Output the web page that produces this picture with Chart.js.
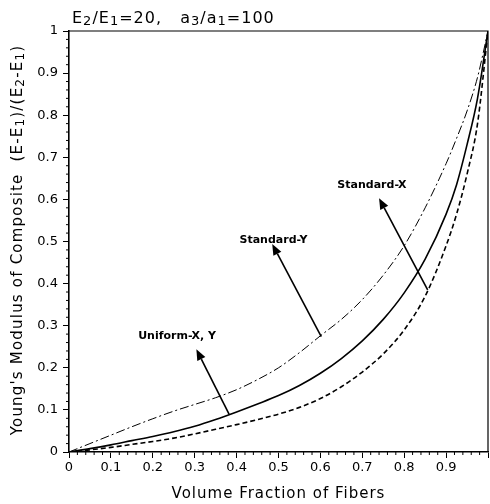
<!DOCTYPE html>
<html>
<head>
<meta charset="utf-8">
<script src="https://cdn.jsdelivr.net/npm/chart.js@4/dist/chart.umd.min.js"></script>
<style>
  html, body { margin: 0; padding: 0; background: #fff; }
</style>
</head>
<body>
<canvas id="chart" width="490" height="504"></canvas>
<script>
// Volume fraction of fibers (x) and normalised Young's modulus (E-E1)/(E2-E1)
const volumeFraction = [0, 0.05, 0.1, 0.15, 0.2, 0.25, 0.3, 0.35, 0.4, 0.45, 0.5, 0.55,
                        0.6, 0.65, 0.7, 0.75, 0.8, 0.85, 0.9, 0.925, 0.95, 0.975, 1];
const uniformXY  = [0, 0.008, 0.017, 0.027, 0.037, 0.048, 0.061, 0.077, 0.095, 0.114, 0.134, 0.158,
                    0.187, 0.222, 0.264, 0.315, 0.378, 0.458, 0.565, 0.635, 0.73, 0.84, 1];
const standardX  = [0, 0.005, 0.011, 0.018, 0.025, 0.033, 0.043, 0.054, 0.065, 0.077, 0.09, 0.106,
                    0.127, 0.155, 0.19, 0.233, 0.29, 0.37, 0.49, 0.565, 0.66, 0.78, 1];
const standardY  = [0, 0.02, 0.04, 0.06, 0.079, 0.097, 0.113, 0.129, 0.148, 0.172, 0.2, 0.236,
                    0.276, 0.315, 0.362, 0.42, 0.49, 0.58, 0.685, 0.745, 0.81, 0.89, 1];

const tickValues = [0, 0.1, 0.2, 0.3, 0.4, 0.5, 0.6, 0.7, 0.8, 0.9, 1];

// Callout labels with arrows
const calloutText  = ['Uniform-X, Y', 'Standard-Y', 'Standard-X'];
const calloutLabel = [[0.258, 0.276], [0.488, 0.504], [0.723, 0.634]];
const calloutTail  = [[0.382, 0.090], [0.602, 0.274], [0.856, 0.385]];
const calloutHead  = [[0.304, 0.244], [0.485, 0.494], [0.740, 0.603]];

const FONT = '"DejaVu Sans", sans-serif';

const toPoints = ys => volumeFraction.map((x, i) => ({ x, y: ys[i] }));
const fmt = v => (Math.abs(v) < 1e-9 ? '0' : String(Number(v.toFixed(1))));

// Draws a run of text pieces; pieces flagged as subscripts are smaller and lowered
function drawRich(ctx, parts, x, y, size) {
  let cx = x;
  for (const [txt, sub] of parts) {
    ctx.font = (sub ? Math.round(size * 0.8) : size) + 'px ' + FONT;
    ctx.fillText(txt, cx, sub ? y + size * 0.1 : y);
    cx += ctx.measureText(txt).width;
  }
  return cx - x;
}
function richWidth(ctx, parts, size) {
  let w = 0;
  for (const [txt, sub] of parts) {
    ctx.font = (sub ? Math.round(size * 0.8) : size) + 'px ' + FONT;
    w += ctx.measureText(txt).width;
  }
  return w;
}

function drawArrow(ctx, x0, y0, x1, y1) {
  const ang = Math.atan2(y1 - y0, x1 - x0);
  const len = 11, half = 4.5;
  const bx = x1 - len * Math.cos(ang), by = y1 - len * Math.sin(ang);
  ctx.beginPath();
  ctx.moveTo(x0, y0);
  ctx.lineTo(bx, by);
  ctx.stroke();
  ctx.beginPath();
  ctx.moveTo(x1, y1);
  ctx.lineTo(bx + half * Math.sin(ang), by - half * Math.cos(ang));
  ctx.lineTo(bx - half * Math.sin(ang), by + half * Math.cos(ang));
  ctx.closePath();
  ctx.fill();
}

const decorations = {
  id: 'decorations',
  afterDraw(chart) {
    const { ctx, chartArea: a, scales: { x, y } } = chart;
    ctx.save();
    ctx.strokeStyle = '#000';
    ctx.fillStyle = '#000';

    // top and right frame
    ctx.lineWidth = 1.2;
    ctx.beginPath();
    ctx.moveTo(a.left, a.top);
    ctx.lineTo(a.right, a.top);
    ctx.lineTo(a.right, a.bottom);
    ctx.stroke();

    // minor ticks every 0.02
    ctx.lineWidth = 1;
    ctx.beginPath();
    for (let i = 1; i < 50; i++) {
      if (i % 5 === 0) continue;
      const px = x.getPixelForValue(i / 50);
      ctx.moveTo(px, a.bottom);
      ctx.lineTo(px, a.bottom + 3);
      const py = y.getPixelForValue(i / 50);
      ctx.moveTo(a.left, py);
      ctx.lineTo(a.left - 3, py);
    }
    ctx.stroke();

    // callouts
    ctx.lineWidth = 1.6;
    calloutText.forEach((t, i) => {
      drawArrow(ctx,
        x.getPixelForValue(calloutTail[i][0]), y.getPixelForValue(calloutTail[i][1]),
        x.getPixelForValue(calloutHead[i][0]), y.getPixelForValue(calloutHead[i][1]));
      ctx.font = 'bold 11px ' + FONT;
      ctx.textAlign = 'center';
      ctx.textBaseline = 'middle';
      ctx.fillText(t, x.getPixelForValue(calloutLabel[i][0]), y.getPixelForValue(calloutLabel[i][1]));
    });

    // heading
    ctx.textAlign = 'left';
    ctx.textBaseline = 'alphabetic';
    ctx.letterSpacing = '1px';
    drawRich(ctx, [['E', 0], ['2', 1], ['/E', 0], ['1', 1], ['=20,   a', 0], ['3', 1], ['/a', 0], ['1', 1], ['=100', 0]],
             a.left + 3, 23, 16);

    // x axis title
    ctx.font = '15px ' + FONT;
    ctx.textAlign = 'center';
    ctx.fillText('Volume Fraction of Fibers', (a.left + a.right) / 2, 498);

    // y axis title
    ctx.letterSpacing = '1.2px';
    const yParts = [["Young's Modulus of Composite  (E-E", 0], ['1', 1], [')/(E', 0], ['2', 1], ['-E', 0], ['1', 1], [')', 0]];
    ctx.translate(22, 240);
    ctx.rotate(-Math.PI / 2);
    ctx.textAlign = 'left';
    const w = richWidth(ctx, yParts, 15);
    drawRich(ctx, yParts, -w / 2, 0, 15);
    ctx.restore();
  }
};

const axisCommon = {
  type: 'linear',
  min: 0,
  max: 1,
  afterBuildTicks: s => { s.ticks = tickValues.map(v => ({ value: v })); },
  grid: { display: true, drawOnChartArea: false, tickLength: 6, color: '#000', lineWidth: 1 },
  border: { display: true, color: '#000', width: 1.6 },
};

new Chart(document.getElementById('chart'), {
  type: 'scatter',
  data: {
    datasets: [
      { label: 'Uniform-X, Y', data: toPoints(uniformXY), showLine: true, borderColor: '#000',
        borderWidth: 1.6, pointRadius: 0, cubicInterpolationMode: 'monotone' },
      { label: 'Standard-X', data: toPoints(standardX), showLine: true, borderColor: '#000',
        borderWidth: 1.6, borderDash: [5, 3], pointRadius: 0, cubicInterpolationMode: 'monotone' },
      { label: 'Standard-Y', data: toPoints(standardY), showLine: true, borderColor: '#000',
        borderWidth: 1, borderDash: [9, 3, 2, 3], pointRadius: 0, cubicInterpolationMode: 'monotone' }
    ]
  },
  options: {
    responsive: false,
    animation: false,
    layout: { padding: { top: 31, right: 1, left: 0, bottom: 0 } },
    plugins: { legend: { display: false }, tooltip: { enabled: false } },
    scales: {
      x: Object.assign({}, axisCommon, {
        afterFit: s => { s.height = 52; },
        ticks: { color: '#000', font: { family: FONT, size: 13 }, padding: 2, maxRotation: 0, autoSkip: false,
                 callback: v => (v === 1 ? '' : fmt(v)) }
      }),
      y: Object.assign({}, axisCommon, {
        afterFit: s => { s.width = 69; },
        ticks: { color: '#000', font: { family: FONT, size: 13 }, padding: 5, autoSkip: false,
                 callback: v => fmt(v) }
      })
    }
  },
  plugins: [decorations]
});
</script>
</body>
</html>
